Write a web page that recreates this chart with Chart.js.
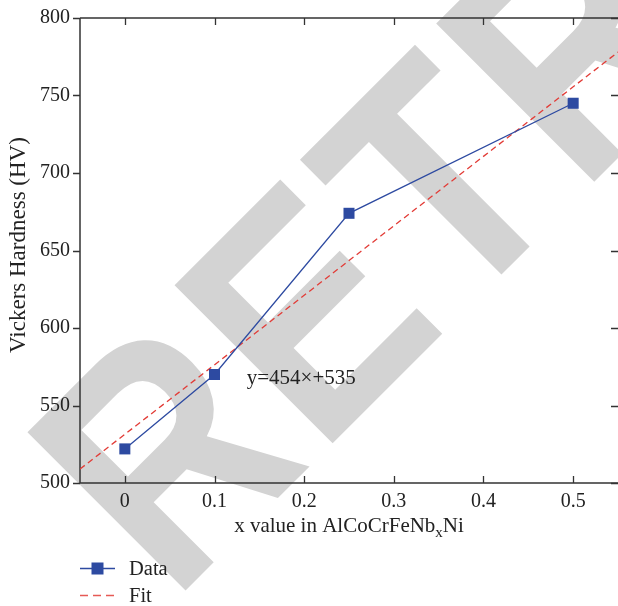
<!DOCTYPE html>
<html>
<head>
<meta charset="utf-8">
<script src="https://cdn.jsdelivr.net/npm/chart.js@4/dist/chart.umd.min.js"></script>
<style>
  html, body { margin: 0; padding: 0; background: #fff; }
  #wrap { width: 618px; height: 606px; }
</style>
</head>
<body>
<div id="wrap"><canvas id="hardnessChart"></canvas></div>
<script>
// Nb content vs Vickers hardness
const xValues = [0, 0.1, 0.25, 0.5];
const hardness = [522, 570, 674, 745];

// linear fit, read at the plot edges
const fitX = [-0.05, 0.55];
const fitY = [509, 778];

const xTicks = [0, 0.1, 0.2, 0.3, 0.4, 0.5];
const yTicks = [500, 550, 600, 650, 700, 750, 800];

const fitLabel = 'y=454×+535';

const blue = '#2d4aa1';
const red = '#e23b36';
const axisColor = '#333333';
const serif = '"Liberation Serif", "DejaVu Serif", serif';

// frame, inward/outward ticks, watermark, titles and legend
const decorations = {
    id: 'decorations',
    beforeDraw(chart) {
        const ctx = chart.ctx;
        ctx.save();
        ctx.fillStyle = '#ffffff';
        ctx.fillRect(0, 0, chart.width, chart.height);
        // grey watermark behind everything
        ctx.translate(172.5, 603.5);
        ctx.rotate(-Math.PI / 4);
        ctx.scale(0.85, 1);
        ctx.fillStyle = '#d3d3d3';
        ctx.font = 'bold 325px "Liberation Sans", Arial, sans-serif';
        ctx.letterSpacing = '10px';
        ctx.textBaseline = 'alphabetic';
        ctx.fillText('RETRACTED', 0, 0);
        ctx.restore();
    },
    beforeDatasetsDraw(chart) {
        const ctx = chart.ctx;
        const a = chart.chartArea;
        const xs = chart.scales.x, ys = chart.scales.y;
        ctx.save();
        ctx.strokeStyle = axisColor;
        ctx.lineWidth = 1.5;
        ctx.beginPath();
        ctx.moveTo(a.left, a.top);
        ctx.lineTo(a.left, a.bottom);
        ctx.lineTo(a.right, a.bottom);
        ctx.moveTo(a.left, a.top);
        ctx.lineTo(a.right, a.top);
        ctx.stroke();
        ctx.lineWidth = 1.3;
        ctx.beginPath();
        xTicks.forEach(v => {
            const px = Math.round(xs.getPixelForValue(v)) + 0.5;
            ctx.moveTo(px, a.bottom);
            ctx.lineTo(px, a.bottom - 7);
            ctx.moveTo(px, a.top);
            ctx.lineTo(px, a.top + 7);
        });
        yTicks.forEach(v => {
            const py = Math.round(ys.getPixelForValue(v)) + 0.5;
            ctx.moveTo(a.left - 7, py);
            ctx.lineTo(a.left, py);
            ctx.moveTo(a.right - 7, py);
            ctx.lineTo(a.right, py);
        });
        ctx.stroke();
        ctx.restore();
    },
    afterDraw(chart) {
        const ctx = chart.ctx;
        const a = chart.chartArea;
        const xs = chart.scales.x, ys = chart.scales.y;
        ctx.save();
        ctx.fillStyle = '#222';

        // y axis title
        ctx.save();
        ctx.font = '23px ' + serif;
        ctx.translate(25, 245);
        ctx.rotate(-Math.PI / 2);
        ctx.textAlign = 'center';
        ctx.textBaseline = 'alphabetic';
        ctx.fillText('Vickers Hardness (HV)', 0, 0);
        ctx.restore();

        // x axis title with subscript
        const p1 = 'x value in AlCoCrFeNb', sub = 'x', p2 = 'Ni';
        ctx.font = '21px ' + serif;
        const w1 = ctx.measureText(p1).width, w3 = ctx.measureText(p2).width;
        ctx.font = '15px ' + serif;
        const w2 = ctx.measureText(sub).width;
        let tx = (a.left + a.right) / 2 - (w1 + w2 + w3) / 2;
        const ty = 532;
        ctx.textAlign = 'left';
        ctx.font = '21px ' + serif;
        ctx.fillText(p1, tx, ty);
        ctx.font = '15px ' + serif;
        ctx.fillText(sub, tx + w1, ty + 5);
        ctx.font = '21px ' + serif;
        ctx.fillText(p2, tx + w1 + w2, ty);

        // fit equation
        ctx.font = '21px ' + serif;
        ctx.fillText(fitLabel, xs.getPixelForValue(0.136), ys.getPixelForValue(564));

        // legend
        const dsData = chart.data.datasets[0], dsFit = chart.data.datasets[1];
        ctx.lineWidth = 1.3;
        ctx.strokeStyle = dsData.borderColor;
        ctx.beginPath();
        ctx.moveTo(80, 568.5);
        ctx.lineTo(115, 568.5);
        ctx.stroke();
        ctx.fillStyle = dsData.pointBackgroundColor;
        ctx.fillRect(91.5, 562.5, 12, 12);
        ctx.strokeStyle = '#e65a55';
        ctx.lineWidth = 1.5;
        ctx.setLineDash([8, 5]);
        ctx.beginPath();
        ctx.moveTo(80, 595.5);
        ctx.lineTo(116, 595.5);
        ctx.stroke();
        ctx.setLineDash([]);
        ctx.fillStyle = '#222';
        ctx.font = '20.5px ' + serif;
        ctx.fillText(dsData.label, 129, 575);
        ctx.fillText(dsFit.label, 129, 602);
        ctx.restore();
    }
};

// no extra room for edge labels: plot area is set by layout padding only
function noEdgePadding(scale) {
    scale.paddingTop = 0;
    scale.paddingBottom = 0;
    scale.paddingLeft = 0;
    scale.paddingRight = 0;
}

new Chart(document.getElementById('hardnessChart'), {
    type: 'scatter',
    data: {
        datasets: [{
            label: 'Data',
            data: xValues.map((x, i) => ({ x: x, y: hardness[i] })),
            showLine: true,
            borderColor: blue,
            borderWidth: 1.3,
            pointStyle: 'rect',
            pointRadius: 7.8,
            pointBackgroundColor: blue,
            pointBorderColor: blue,
            pointBorderWidth: 0,
            order: 1
        }, {
            label: 'Fit',
            data: fitX.map((x, i) => ({ x: x, y: fitY[i] })),
            showLine: true,
            borderColor: red,
            borderWidth: 1.3,
            borderDash: [6, 4],
            pointRadius: 0,
            order: 2
        }]
    },
    options: {
        responsive: true,
        maintainAspectRatio: false,
        animation: false,
        layout: {
            autoPadding: false,
            padding: { top: 18, left: 0, right: 0, bottom: 0 }
        },
        plugins: {
            legend: { display: false },
            tooltip: { enabled: false }
        },
        scales: {
            x: {
                type: 'linear',
                min: -0.05,
                max: 0.55,
                afterBuildTicks: scale => { scale.ticks = xTicks.map(v => ({ value: v })); },
                afterFit: scale => { scale.height = 123; noEdgePadding(scale); },
                grid: { display: false, drawTicks: false, tickLength: 0 },
                border: { display: false },
                ticks: {
                    padding: 7,
                    color: '#222',
                    font: { family: serif, size: 20 },
                    callback: v => String(v)
                }
            },
            y: {
                min: 500,
                max: 800,
                afterBuildTicks: scale => { scale.ticks = yTicks.map(v => ({ value: v })); },
                afterFit: scale => { scale.width = 80; noEdgePadding(scale); },
                grid: { display: false, drawTicks: false, tickLength: 0 },
                border: { display: false },
                ticks: {
                    padding: 10,
                    color: '#222',
                    font: { family: serif, size: 20 }
                }
            }
        }
    },
    plugins: [decorations]
});
</script>
</body>
</html>
